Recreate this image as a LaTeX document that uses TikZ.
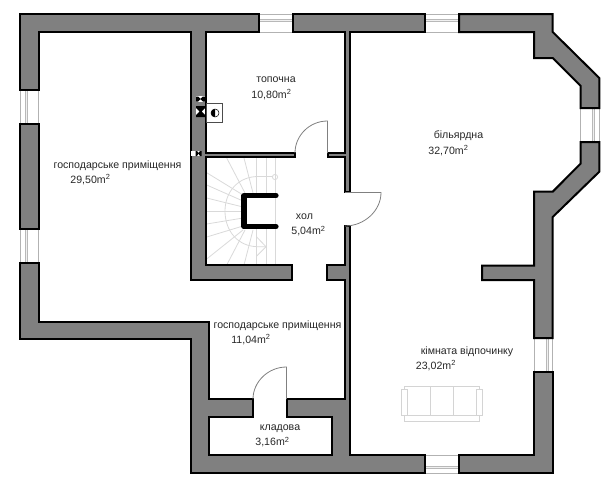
\documentclass[tikz,border=0pt]{standalone}
\usepackage{fontspec}
\setmainfont{Liberation Sans}
\definecolor{wallgray}{HTML}{808080}
\tikzset{
  wall/.style={draw=black, line width=1.5pt, fill=wallgray, line join=miter},
  windowline/.style={draw=black!30, line width=0.7pt},
  paneline/.style={draw=black!28, line width=0.5pt, fill=black!6},
  doorline/.style={draw=black!50, line width=0.6pt},
  stairline/.style={draw=black!15, line width=0.6pt},
  sofaline/.style={draw=black!17, line width=0.7pt},
  room/.style={font=\fontsize{7.95pt}{10pt}\selectfont, text=black!85, inner sep=0pt},
}
\begin{document}
\begin{tikzpicture}[x=0.75pt, y=-0.75pt]
  \useasboundingbox (0,0) rectangle (606,500);
  % stairs
  \foreach \x/\ya/\xb/\yb in {206.7/172.7/243/195, 206.7/185/243/201, 226.7/158/245/193,
      244/158/253/193, 206.7/198/243/207, 206.7/211/243/211, 206.7/224/243/218,
      206.7/237/243/226, 206.7/259/243/230, 226.7/265/245/230, 244/265/253/230,
      256.7/158/256.7/193, 256.7/229/256.7/265, 266.5/158/266.5/193, 266.5/229/266.5/265}
    \draw [stairline] (\x,\ya) -- (\xb,\yb);
  \draw [stairline] (275.5,158) -- (275.5,265);
  \draw [stairline] (272,176.5) -- (258,176.5) .. controls (238,176.5) and (225,192) .. (225,211)
    .. controls (225,231) and (238,246.7) .. (258,246.7) -- (266,246.7);
  \draw [stairline] (256.7,237) -- (266,246.7) -- (256.7,256);
  \draw [stairline] (275,177) circle (2.6);
  % newel
  \draw [line width=3.9pt, line cap=round, line join=round] (276,195.5) -- (244,195.5) -- (244,226.7) -- (276,226.7);
  % windows across the vertical walls
  \foreach \xa/\xb/\xp/\ya/\yb in {20/38.5/25/90/124, 20/38.5/25/229/263,
      580.7/599.3/592.3/108/142, 534/552.7/546/338/372} {
    \draw [windowline] (\xa,\ya) -- (\xa,\yb);
    \draw [windowline] (\xb,\ya) -- (\xb,\yb);
    \draw [paneline] (\xp,\ya) rectangle (\xp+2,\yb);
  }
  % windows across the horizontal walls
  \foreach \xa/\xb/\ya/\yb/\yp in {259/293/14/32/19, 425/459/14/32/19, 425/459/455/473/466.7} {
    \draw [windowline] (\xa,\ya) -- (\xb,\ya);
    \draw [windowline] (\xa,\yb) -- (\xb,\yb);
    \draw [paneline] (\xa,\yp) rectangle (\xb,\yp+2);
  }
  % walls
  \draw [wall] (20,124) rectangle (38.5,229);
  \draw [wall] (20,90) -- (20,14) -- (259,14) -- (259,32) -- (205.5,32) -- (205.5,153) -- (295,153)
    -- (295,157) -- (205.5,157) -- (205.5,265) -- (292,265) -- (292,280) -- (191,280) -- (191,32)
    -- (38.5,32) -- (38.5,90) -- cycle;
  \draw [wall] (293,14) -- (425,14) -- (425,32) -- (350,32) -- (350,192) -- (344.5,192) -- (344.5,157)
    -- (328,157) -- (328,153) -- (344.5,153) -- (344.5,32) -- (293,32) -- cycle;
  \draw [wall] (459,14) -- (552.7,14) -- (552.7,32) -- (599.3,78) -- (599.3,108) -- (580.7,108)
    -- (580.7,86) -- (552.7,58) -- (534,58) -- (534,32) -- (459,32) -- cycle;
  \draw [wall] (580.7,142) -- (599.3,142) -- (599.3,171.7) -- (552.7,217) -- (552.7,338) -- (534,338)
    -- (534,280) -- (482,280) -- (482,265.7) -- (534,265.7) -- (534,191.7) -- (552.7,191.7)
    -- (580.7,163.5) -- cycle;
  \draw [wall] (425,455) -- (425,473) -- (191,473) -- (191,339) -- (20,339) -- (20,263) -- (38.5,263)
    -- (38.5,322) -- (209,322) -- (209,399) -- (253,399) -- (253,417) -- (209,417) -- (209,455)
    -- (331.7,455) -- (331.7,417) -- (287,417) -- (287,399) -- (344.5,399) -- (344.5,280) -- (327,280)
    -- (327,265) -- (344.5,265) -- (344.5,226) -- (350,226) -- (350,455) -- cycle;
  \draw [wall] (459,455) -- (534,455) -- (534,372) -- (552.7,372) -- (552.7,473) -- (459,473) -- cycle;
  % doors
  \draw [doorline] (327.5,153) -- (327.5,121) .. controls (309.5,121) and (295,135.5) .. (295,153);
  \draw [doorline] (345,192.5) -- (381,192.5) .. controls (381,211) and (364,226) .. (345,226);
  \draw [doorline] (286.5,399) -- (286.5,367) .. controls (268,367) and (253,382) .. (253,399);
  % boiler and flues
  \draw [draw=black!70, fill=white, line width=0.6pt] (206.7,103) rectangle (222,122);
  \draw [fill=white, line width=0.4pt] (215,113) circle (4);
  \fill (215,109) .. controls (212.8,109) and (211,110.8) .. (211,113)
    .. controls (211,115.2) and (212.8,117) .. (215,117) -- cycle;
  \fill [white] (195.7,96) rectangle (205,101.7);
  \fill [black] (196,96.5) -- (198,96.5) -- (200.5,98.8) -- (203,96.5) -- (205,96.5) -- (205,101.5)
    -- (203,101.5) -- (200.5,99.2) -- (198,101.5) -- (196,101.5) -- cycle;
  \fill [white] (196,106) rectangle (205,117);
  \fill [black] (196,106) -- (205,106) -- (205,108) -- (201.5,111.5) -- (205,115) -- (205,117)
    -- (196,117) -- (196,115) -- (199.5,111.5) -- (196,108) -- cycle;
  \fill [white] (190.5,150.5) rectangle (201,156);
  \fill [black] (195.5,151) -- (197,151) -- (198.5,153) -- (200,151) -- (201.5,151) -- (201.5,156)
    -- (200,156) -- (198.5,153.6) -- (197,156) -- (195.5,156) -- cycle;
  % sofa
  \draw [sofaline, fill=white] (404,386.7) rectangle (479.3,421);
  \draw [sofaline, fill=white] (401.7,389) rectangle (407,415);
  \draw [sofaline, fill=white] (476.5,389) rectangle (482.7,415);
  \draw [sofaline] (407,415) -- (476.5,415);
  \foreach \x in {430.7,453.3}
    \draw [sofaline] (\x,386.7) -- (\x,415);
  % labels
  \node [room] (store1) at (117.5,165.5) {господарське приміщення};
  \node [room] (store1area) at (90.5,179.5) {29,50m\textsuperscript{2}};
  \node [room] (boiler) at (276,80) {топочна};
  \node [room] (boilerarea) at (271.5,94.5) {10,80m\textsuperscript{2}};
  \node [room] (hall) at (304.5,217) {хол};
  \node [room] (hallarea) at (308.5,231) {5,04m\textsuperscript{2}};
  \node [room] (store2) at (277.5,325.5) {господарське приміщення};
  \node [room] (store2area) at (251,339.5) {11,04m\textsuperscript{2}};
  \node [room] (pantry) at (280,428.5) {кладова};
  \node [room] (pantryarea) at (272.5,442) {3,16m\textsuperscript{2}};
  \node [room] (billiard) at (458.5,136) {більярдна};
  \node [room] (billiardarea) at (448.5,150.5) {32,70m\textsuperscript{2}};
  \node [room] (lounge) at (467,351.5) {кімната відпочинку};
  \node [room] (loungearea) at (436,365.5) {23,02m\textsuperscript{2}};
\end{tikzpicture}
\end{document}
